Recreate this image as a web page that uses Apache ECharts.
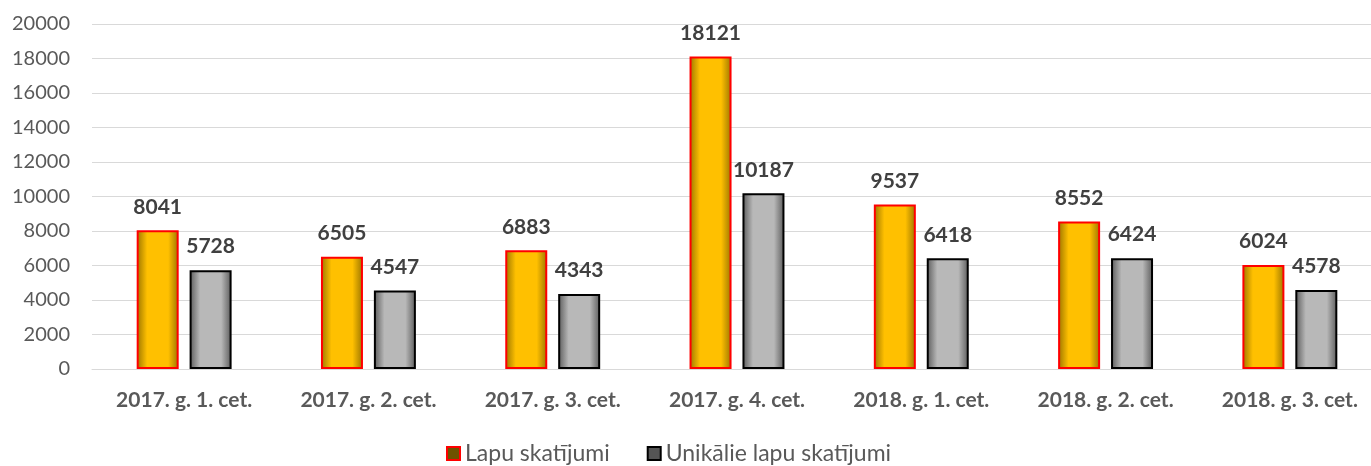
<!DOCTYPE html>
<html>
<head>
<meta charset="utf-8">
<script src="https://cdn.jsdelivr.net/npm/echarts@6/dist/echarts.min.js"></script>
<style>html,body{margin:0;padding:0;background:#fff}#c{width:1371px;height:466px}</style>
</head>
<body>
<div id="c"></div>
<script>
const categories = ['2017. g. 1. cet.', '2017. g. 2. cet.', '2017. g. 3. cet.', '2017. g. 4. cet.', '2018. g. 1. cet.', '2018. g. 2. cet.', '2018. g. 3. cet.'];
const lapuSkatijumi = [8041, 6505, 6883, 18121, 9537, 8552, 6024];
const unikalieSkatijumi = [5728, 4547, 4343, 10187, 6418, 6424, 4578];
const seriesNames = ['Lapu skatījumi', 'Unikālie lapu skatījumi'];

function grad(edge, mid) {
  return new echarts.graphic.LinearGradient(0, 0, 1, 0, [
    {offset: 0, color: edge},
    {offset: 0.25, color: mid},
    {offset: 0.75, color: mid},
    {offset: 1, color: edge}
  ]);
}
const font = 'Lato, "Open Sans", sans-serif';
const chart = echarts.init(document.getElementById('c'), null, {renderer: 'canvas'});
chart.setOption({
  animation: false,
  textStyle: {fontFamily: font},
  grid: {left: 92, width: 1290, top: 24, bottom: 97, containLabel: false, outerBoundsMode: 'none'},
  legend: {
    top: 442,
    left: 446,
    itemWidth: 13, itemHeight: 13,
    itemGap: 37,
    icon: 'rect',
    padding: 0,
    textStyle: {fontSize: 23, color: '#595959', fontFamily: font},
    data: [
      {name: seriesNames[0], itemStyle: {color: '#6e5200', borderColor: '#ff0000', borderWidth: 2}},
      {name: seriesNames[1], itemStyle: {color: '#555555', borderColor: '#000000', borderWidth: 2}}
    ]
  },
  xAxis: {
    type: 'category',
    data: categories,
    axisLine: {show: true, lineStyle: {color: '#d9d9d9', width: 1}},
    axisTick: {show: false},
    axisLabel: {fontSize: 21, fontWeight: 'bold', color: '#595959', margin: 21, fontFamily: font, interval: 0}
  },
  yAxis: {
    type: 'value',
    min: 0, max: 20000, interval: 2000,
    axisLine: {show: false},
    axisTick: {show: false},
    splitLine: {lineStyle: {color: '#d9d9d9', width: 1}},
    axisLabel: {fontSize: 20, color: '#595959', margin: 22, fontFamily: font, formatter: v => String(v)}
  },
  series: [
    {
      name: seriesNames[0], type: 'bar', data: lapuSkatijumi,
      barWidth: 42, barGap: '26%',
      itemStyle: {color: grad('#9a7400', '#ffc000'), borderColor: '#ff0000', borderWidth: 2},
      label: {show: true, position: 'top', distance: 13, fontSize: 21, fontWeight: 'bold', color: '#404040', fontFamily: font}
    },
    {
      name: seriesNames[1], type: 'bar', data: unikalieSkatijumi,
      barWidth: 42,
      itemStyle: {color: grad('#5a5a5a', '#b8b8b8'), borderColor: '#000000', borderWidth: 2},
      label: {show: true, position: 'top', distance: 13, fontSize: 21, fontWeight: 'bold', color: '#404040', fontFamily: font}
    }
  ]
});
</script>
</body>
</html>
